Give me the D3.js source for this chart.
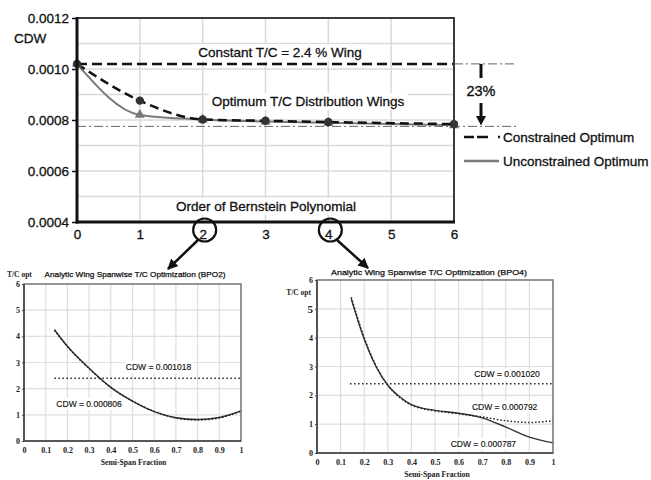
<!DOCTYPE html>
<html><head><meta charset="utf-8">
<script src="https://cdn.jsdelivr.net/npm/d3@7"></script>
<style>html,body{margin:0;padding:0;background:#fff} svg{display:block}</style>
</head><body><svg id="c" width="651" height="480"></svg>
<script>
// ---- Wave drag (CDW) versus order of Bernstein polynomial ----
const orders = [0, 1, 2, 3, 4, 6];
const constrainedCDW = [0.00102, 0.000876, 0.000802, 0.000797, 0.000792, 0.000784];
const unconstrainedCDW = [0.00102, 0.00082, 0.000802, 0.000794, 0.000789, 0.000779];
const constantCDW = 0.00102;
const optimumCDW = 0.000775;
const cdwTicks = [0.0004, 0.0006, 0.0008, 0.0010, 0.0012];
const cdwGrid = [0.0004, 0.0005, 0.0006, 0.0007, 0.0008, 0.0009, 0.0010, 0.0011, 0.0012];
const orderTicks = [0, 1, 2, 3, 4, 5, 6];
const highlightedOrders = [2, 4];
const reductionLabel = "23%";

// ---- Spanwise T/C distributions ----
const spanTicks = [0, 0.1, 0.2, 0.3, 0.4, 0.5, 0.6, 0.7, 0.8, 0.9, 1];
const tcTicks = [0, 1, 2, 3, 4, 5, 6];
const constantTC = 2.4;
const constantSpan = [0.14, 1.0];

const bpo2Span   = [0.14, 0.2, 0.3, 0.4, 0.5, 0.6, 0.7, 0.8, 0.9, 1.0];
const bpo2Solid  = [4.25, 3.62, 2.78, 2.05, 1.52, 1.12, 0.89, 0.82, 0.90, 1.15];
const bpo2Dotted = [4.24, 3.61, 2.77, 2.05, 1.53, 1.13, 0.88, 0.80, 0.88, 1.14];

const bpo4Span   = [0.145, 0.2, 0.25, 0.3, 0.35, 0.4, 0.45, 0.5, 0.6, 0.7, 0.8, 0.9, 1.0];
const bpo4Solid  = [5.35, 3.95, 3.0, 2.35, 1.95, 1.68, 1.55, 1.48, 1.38, 1.22, 0.9, 0.55, 0.35];
const bpo4Dotted = [5.4, 4.0, 3.02, 2.35, 1.93, 1.66, 1.53, 1.46, 1.36, 1.25, 1.12, 1.06, 1.12];

const svg = d3.select("#c");
const SANS = "'Liberation Sans', Arial, sans-serif";
const SERIF = "'Liberation Serif', 'Times New Roman', serif";

// arrowhead marker
svg.append("defs").append("marker")
  .attr("id", "ah").attr("viewBox", "0 0 10 10").attr("refX", 9).attr("refY", 5)
  .attr("markerWidth", 4.2).attr("markerHeight", 4.2).attr("orient", "auto")
  .append("path").attr("d", "M0,0L10,5L0,10z").attr("fill", "#111");

// text with a white box behind it
function boxedText(g, x, y, str, opts) {
  const grp = g.append("g");
  const rect = grp.append("rect").attr("fill", "#fff");
  const t = grp.append("text").attr("x", x).attr("y", y).text(str)
    .attr("text-anchor", opts.anchor || "middle")
    .attr("font-family", opts.family || SANS)
    .attr("font-size", opts.size).attr("fill", opts.fill || "#111")
    .attr("stroke", opts.fill || "#111").attr("stroke-width", opts.weight || 0);
  const b = t.node().getBBox();
  const p = opts.pad || 2;
  rect.attr("x", b.x - p).attr("y", b.y - 1).attr("width", b.width + 2 * p).attr("height", b.height + 2);
  return t;
}

// ================= main chart =================
const X = d3.scaleLinear().domain([0, 6]).range([77, 454]);
const Y = d3.scaleLinear().domain([0.0004, 0.0012]).range([222, 18]);
const mainG = svg.append("g");

mainG.selectAll(".gy").data(cdwGrid).join("line")
  .attr("x1", X(0)).attr("x2", X(6)).attr("y1", d => Y(d)).attr("y2", d => Y(d))
  .attr("stroke", "#dadada").attr("stroke-width", 1.5);
mainG.selectAll(".gx").data(orderTicks).join("line")
  .attr("x1", d => X(d)).attr("x2", d => X(d)).attr("y1", Y(0.0012)).attr("y2", Y(0.0004))
  .attr("stroke", "#dadada").attr("stroke-width", 1.5);

boxedText(mainG, 280, 57, "Constant T/C = 2.4 % Wing", { size: 13.5, pad: 3, weight: 0.3 });
boxedText(mainG, 308, 106, "Optimum T/C Distribution Wings", { size: 13.5, pad: 3, weight: 0.3 });
boxedText(mainG, 266, 211, "Order of Bernstein Polynomial", { size: 13.5, pad: 3, weight: 0.3 });

// reference dash-dot lines
const dashDot = "9,3,2,3";
mainG.append("line").attr("x1", X(0)).attr("x2", 517).attr("y1", Y(optimumCDW)).attr("y2", Y(optimumCDW))
  .attr("stroke", "#666").attr("stroke-width", 1).attr("stroke-dasharray", dashDot);
mainG.append("line").attr("x1", X(6)).attr("x2", 517).attr("y1", Y(constantCDW)).attr("y2", Y(constantCDW))
  .attr("stroke", "#666").attr("stroke-width", 1).attr("stroke-dasharray", dashDot);

// constant T/C wing
mainG.append("line").attr("x1", X(0)).attr("x2", X(6)).attr("y1", Y(constantCDW)).attr("y2", Y(constantCDW))
  .attr("stroke", "#111").attr("stroke-width", 2.5).attr("stroke-dasharray", "10,5");

const pts = (vals) => orders.map((o, i) => [o, vals[i]]);
const line = d3.line().x(d => X(d[0])).y(d => Y(d[1])).curve(d3.curveMonotoneX);

mainG.append("path").attr("d", line(pts(unconstrainedCDW))).attr("fill", "none")
  .attr("stroke", "#7a7a7a").attr("stroke-width", 2);
mainG.append("path").attr("d", line(pts(constrainedCDW))).attr("fill", "none")
  .attr("stroke", "#111").attr("stroke-width", 2.5).attr("stroke-dasharray", "9,5");

mainG.selectAll(".tri").data(pts(unconstrainedCDW)).join("path")
  .attr("d", d3.symbol(d3.symbolTriangle, 45))
  .attr("transform", d => `translate(${X(d[0])},${Y(d[1])})`).attr("fill", "#777");
mainG.selectAll(".dot").data(pts(constrainedCDW)).join("circle")
  .attr("cx", d => X(d[0])).attr("cy", d => Y(d[1])).attr("r", 4.2).attr("fill", "#333");

// frame
mainG.append("rect").attr("x", X(0)).attr("y", Y(0.0012)).attr("width", X(6) - X(0)).attr("height", Y(0.0004) - Y(0.0012))
  .attr("fill", "none").attr("stroke", "#3a3a3a").attr("stroke-width", 2);
mainG.append("line").attr("x1", X(0)).attr("x2", X(0)).attr("y1", Y(0.0012) - 1).attr("y2", Y(0.0004) + 1.5)
  .attr("stroke", "#111").attr("stroke-width", 3);
mainG.append("line").attr("x1", X(0) - 1.5).attr("x2", X(6) + 1).attr("y1", Y(0.0004)).attr("y2", Y(0.0004))
  .attr("stroke", "#111").attr("stroke-width", 3);

// axes
const yAxis = mainG.append("g").attr("transform", `translate(${X(0)},0)`)
  .call(d3.axisLeft(Y).tickValues(cdwTicks).tickFormat(d3.format(".4f")).tickSize(5).tickPadding(3));
const xAxis = mainG.append("g").attr("transform", `translate(0,${Y(0.0004)})`)
  .call(d3.axisBottom(X).tickValues(orderTicks).tickFormat(d3.format("d")).tickSize(0).tickPadding(7));
[yAxis, xAxis].forEach(a => {
  a.select(".domain").remove();
  a.selectAll("line").attr("stroke", "#111").attr("stroke-width", 1.5);
  a.selectAll("text").attr("font-family", SANS).attr("font-size", 13.5).attr("fill", "#111")
    .attr("stroke", "#111").attr("stroke-width", 0.3);
});
mainG.append("text").attr("x", 14).attr("y", 43).text("CDW")
  .attr("font-family", SANS).attr("font-size", 13.5).attr("fill", "#111")
  .attr("stroke", "#111").attr("stroke-width", 0.3);

// highlighted polynomial orders
mainG.selectAll(".hl").data(highlightedOrders).join("circle")
  .attr("cx", d => X(d) + 2).attr("cy", 230).attr("r", 11.5)
  .attr("fill", "none").attr("stroke", "#111").attr("stroke-width", 2.2);

// 23% annotation
const ax = 481;
mainG.append("line").attr("x1", ax).attr("x2", ax).attr("y1", Y(constantCDW)).attr("y2", 78)
  .attr("stroke", "#111").attr("stroke-width", 3);
mainG.append("line").attr("x1", ax).attr("x2", ax).attr("y1", 103).attr("y2", 117)
  .attr("stroke", "#111").attr("stroke-width", 3);
mainG.append("path").attr("d", d3.line()([[ax - 5, 116], [ax + 5, 116], [ax, Y(optimumCDW) - 1]]))
  .attr("fill", "#111");
mainG.append("text").attr("x", ax).attr("y", 96).attr("text-anchor", "middle").text(reductionLabel)
  .attr("font-family", SANS).attr("font-size", 14.5).attr("fill", "#111")
  .attr("stroke", "#111").attr("stroke-width", 0.35);

// legend
const lg = mainG.append("g");
lg.append("line").attr("x1", 464).attr("x2", 500).attr("y1", 137).attr("y2", 137)
  .attr("stroke", "#111").attr("stroke-width", 2.5).attr("stroke-dasharray", "10,3,11,10,2");
lg.append("text").attr("x", 503).attr("y", 142).text("Constrained Optimum")
  .attr("font-family", SANS).attr("font-size", 13.5).attr("fill", "#111")
  .attr("stroke", "#111").attr("stroke-width", 0.3);
lg.append("line").attr("x1", 464).attr("x2", 499).attr("y1", 161).attr("y2", 161)
  .attr("stroke", "#7a7a7a").attr("stroke-width", 2.5);
lg.append("text").attr("x", 503).attr("y", 166).text("Unconstrained Optimum")
  .attr("font-family", SANS).attr("font-size", 13.5).attr("fill", "#111")
  .attr("stroke", "#111").attr("stroke-width", 0.3);

// pointers from highlighted orders to detail charts
mainG.append("line").attr("x1", 198).attr("y1", 240).attr("x2", 168).attr("y2", 269)
  .attr("stroke", "#111").attr("stroke-width", 2.5).attr("marker-end", "url(#ah)");
mainG.append("line").attr("x1", 337).attr("y1", 240).attr("x2", 368).attr("y2", 268)
  .attr("stroke", "#111").attr("stroke-width", 2.5).attr("marker-end", "url(#ah)");

// ================= detail charts =================
function detail(cfg) {
  const g = svg.append("g");
  const x = d3.scaleLinear().domain([0, 1]).range(cfg.xr);
  const y = d3.scaleLinear().domain([0, 6]).range(cfg.yr);
  g.selectAll(".gx").data(spanTicks).join("line")
    .attr("x1", d => x(d)).attr("x2", d => x(d)).attr("y1", y(6)).attr("y2", y(0))
    .attr("stroke", "#dedede").attr("stroke-width", 1.2);
  g.selectAll(".gy").data(tcTicks).join("line")
    .attr("x1", x(0)).attr("x2", x(1)).attr("y1", d => y(d)).attr("y2", d => y(d))
    .attr("stroke", "#dedede").attr("stroke-width", 1.2);

  cfg.labels.forEach(l => boxedText(g, x(l.s), y(l.tc), l.text, { size: 8.5, pad: 2, weight: 0.15 }));

  g.append("line").attr("x1", x(constantSpan[0])).attr("x2", x(constantSpan[1]))
    .attr("y1", y(constantTC)).attr("y2", y(constantTC))
    .attr("stroke", "#222").attr("stroke-width", 1.5).attr("stroke-dasharray", "1.5,2.5");

  const ln = d3.line().x(d => x(d[0])).y(d => y(d[1])).curve(d3.curveMonotoneX);
  const sPts = cfg.span.map((s, i) => [s, cfg.solid[i]]);
  const dPts = cfg.span.map((s, i) => [s, cfg.dotted[i]]);
  g.append("path").attr("d", ln(sPts)).attr("fill", "none").attr("stroke", "#333").attr("stroke-width", 1.4);
  g.append("path").attr("d", ln(dPts)).attr("fill", "none").attr("stroke", "#222")
    .attr("stroke-width", 1.5).attr("stroke-dasharray", "1.5,2");

  g.append("rect").attr("x", x(0)).attr("y", y(6)).attr("width", x(1) - x(0)).attr("height", y(0) - y(6))
    .attr("fill", "none").attr("stroke", "#777").attr("stroke-width", 1.5);
  g.append("path").attr("d", `M${x(0)},${y(6)}V${y(0)}H${x(1)}`).attr("fill", "none")
    .attr("stroke", "#444").attr("stroke-width", 1.6);

  const ya = g.append("g").attr("transform", `translate(${x(0)},0)`)
    .call(d3.axisLeft(y).tickValues(tcTicks).tickFormat(d3.format("d")).tickSize(2).tickPadding(2));
  const xa = g.append("g").attr("transform", `translate(0,${y(0)})`)
    .call(d3.axisBottom(x).tickValues(spanTicks).tickFormat(d => d === 0 || d === 1 ? d3.format("d")(d) : d3.format(".1f")(d)).tickSize(0).tickPadding(6));
  [ya, xa].forEach(a => {
    a.select(".domain").remove();
    a.selectAll("line").attr("stroke", "#444");
    a.selectAll("text").attr("font-family", SERIF).attr("font-weight", "bold")
      .attr("font-size", 8).attr("fill", "#222");
  });
  if (cfg.bigFive) ya.selectAll("text").filter(d => d === 5).attr("font-size", 11);

  g.append("text").attr("x", (x(0) + x(1)) / 2 + cfg.xTitleShift).attr("y", y(0) + 24).attr("text-anchor", "middle")
    .text("Semi-Span Fraction").attr("font-family", SERIF).attr("font-weight", "bold")
    .attr("font-size", 7.7).attr("fill", "#222");
  g.append("text").attr("x", cfg.titleX).attr("y", cfg.titleY).attr("text-anchor", "middle")
    .text(cfg.title).attr("font-family", SANS).attr("font-size", 8).attr("fill", "#111")
    .attr("stroke", "#111").attr("stroke-width", 0.25)
    .attr("textLength", cfg.titleW).attr("lengthAdjust", "spacingAndGlyphs");
  g.append("text").attr("x", cfg.tcX).attr("y", cfg.tcY).attr("text-anchor", cfg.tcAnchor)
    .text("T/C opt").attr("font-family", SERIF).attr("font-weight", "bold")
    .attr("font-size", 7.5).attr("fill", "#222");
}

detail({
  xr: [24, 241], yr: [441, 284],
  span: bpo2Span, solid: bpo2Solid, dotted: bpo2Dotted,
  title: "Analytic Wing Spanwise T/C Optimization (BPO2)", titleX: 135, titleY: 277, titleW: 181,
  tcX: 7, tcY: 277, tcAnchor: "start", xTitleShift: 1,
  labels: [
    { s: 0.62, tc: 2.72, text: "CDW = 0.001018" },
    { s: 0.30, tc: 1.3, text: "CDW = 0.000806" }
  ]
});

detail({
  xr: [317, 553], yr: [453, 280],
  span: bpo4Span, solid: bpo4Solid, dotted: bpo4Dotted,
  title: "Analytic Wing Spanwise T/C Optimization (BPO4)", titleX: 429, titleY: 275, titleW: 196,
  tcX: 311, tcY: 295, tcAnchor: "end", xTitleShift: 2, bigFive: true,
  labels: [
    { s: 0.805, tc: 2.62, text: "CDW = 0.001020" },
    { s: 0.795, tc: 1.5, text: "CDW = 0.000792" },
    { s: 0.705, tc: 0.22, text: "CDW = 0.000787" }
  ]
});
</script></body></html>
